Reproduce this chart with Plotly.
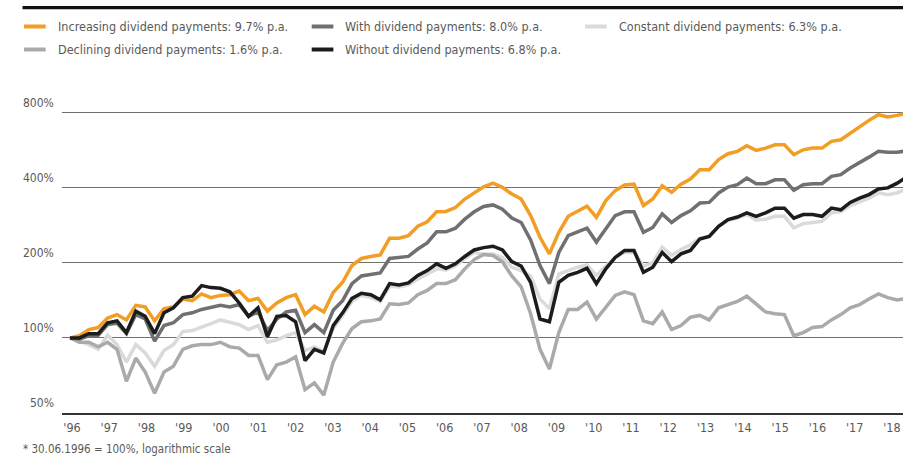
import math
import plotly.graph_objects as go

# ---------------- data (index: 30.06.1996 = 100%) ----------------
# quarterly observations, first = 30.06.1996
periods = [1996.5 + 0.25 * i for i in range(90)]

increasing = [100, 102, 108, 110, 120, 124, 118, 135, 133, 117, 131, 133, 143, 141, 150, 145, 148, 149, 154, 141, 144, 128, 138,
              145, 149, 124, 134, 127, 152, 167, 195, 208, 212, 215, 251, 251, 257, 280, 292, 320, 321, 333, 360, 381,
              403, 417, 401, 377, 360, 309, 253, 217, 265, 307, 323, 337, 304, 355, 389, 410, 413, 339, 360, 407, 383, 413, 433,
              472, 472, 518, 547, 559, 589, 564, 576, 594, 594, 542, 567, 576, 576, 613, 622, 662, 704, 744, 784, 767, 779, 796]

with_div = [100, 99, 102, 102.5, 113, 114.5, 104, 124, 119, 97, 112, 115, 124, 126, 130, 132, 135, 133, 136, 122, 127, 107, 119,
            127, 129, 105, 113, 105, 129, 141, 165, 177, 180, 182, 208, 210, 212, 227, 240, 266, 266, 275, 299, 320,
            336, 341, 328, 302, 290, 247, 195, 165, 220, 257, 265, 275, 242, 273, 309, 320, 320, 265, 277, 314, 290, 309, 323,
            347, 349, 381, 402, 411, 437, 415, 415, 430, 430, 390, 411, 415, 415, 444, 451, 479, 502, 530, 559, 554, 554, 562]

constant = [100, 97, 94, 90, 102.5, 94, 80, 94, 87, 77, 89, 94, 106, 107, 110, 114, 118, 115, 113, 108, 112, 96, 98,
            102, 105, 89, 92, 88, 109, 123, 140, 148, 145, 140, 161, 160, 163, 172, 180, 189, 187, 194, 208, 220,
            216, 217, 210, 192, 186, 177, 143, 131, 180, 186, 192, 196, 178, 194, 210, 220, 220, 194, 200, 231, 214, 226, 236,
            251, 255, 280, 296, 302, 312, 296, 299, 307, 307, 276, 287, 290, 293, 317, 321, 339, 352, 363, 381, 375, 381, 395]

declining = [100, 96, 96, 92, 96, 90, 67, 83, 73, 60, 73, 77, 90, 93, 94, 94, 96, 92, 91, 85, 85, 68, 78,
             80, 84, 62, 66, 59, 80, 95, 109, 116, 117, 119, 137, 136, 138, 149, 155, 165, 165, 171, 189, 206,
             216, 214, 202, 177, 160, 125, 90, 75, 105, 130, 130, 139, 119, 133, 148, 153, 149, 117, 114, 127, 108, 112, 121,
             123, 118, 132, 136, 140, 147, 136, 127, 125, 124, 102, 105, 110, 111, 118, 124, 132, 136, 143, 150, 145, 142, 144]

without = [100, 100, 104, 104, 115, 117, 105, 128, 122, 104, 126, 132, 145, 147, 162, 159, 158, 153, 138, 122, 132, 101, 122,
           123, 116, 81, 90, 87, 112, 126, 144, 151, 149, 142, 165, 163, 166, 178, 186, 198, 190, 198, 212, 225,
           230, 233, 225, 202, 194, 167, 119, 116, 167, 178, 183, 190, 165, 189, 210, 224, 224, 183, 192, 220, 202, 217, 224,
           249, 255, 280, 298, 305, 317, 307, 317, 331, 331, 302, 312, 312, 307, 331, 326, 349, 363, 375, 395, 399, 417, 441]

year_labels = ["'96", "'97", "'98", "'99", "'00", "'01", "'02", "'03", "'04", "'05", "'06", "'07",
               "'08", "'09", "'10", "'11", "'12", "'13", "'14", "'15", "'16", "'17", "'18"]
y_ticks = [50, 100, 200, 400, 800]

series_names = ["Constant dividend payments: 6.3% p.a.",
                "Declining dividend payments: 1.6% p.a.",
                "With dividend payments: 8.0% p.a.",
                "Increasing dividend payments: 9.7% p.a.",
                "Without dividend payments: 6.8% p.a."]
series_values = [constant, declining, with_div, increasing, without]
series_colors = ["#DADADB", "#A9AAAC", "#707073", "#F29D24", "#1C1C1C"]

# ---------------- layout geometry ----------------
W, H = 903, 461
ML, MR, MT, MB = 62, 0, 100, 48
PW, PH = W - ML - MR, H - MT - MB
FONT = "Liberation Sans Narrow, DejaVu Sans Condensed, Roboto Condensed, Roboto, sans-serif"
TXT = "#5a5a5a"

def px_x(px):
    return (px - ML) / PW

def px_y(py):
    return (H - MB - py) / PH

fig = go.Figure()
for name, vals, col in zip(series_names, series_values, series_colors):
    fig.add_trace(go.Scatter(x=periods, y=vals, name=name, mode="lines",
                             line=dict(color=col, width=3.5), hoverinfo="skip"))

# tick label positions on the time axis
tick_pos = [1996.553 + k * 0.9912 for k in range(len(year_labels))]

fig.update_layout(
    width=W, height=H, margin=dict(l=ML, r=MR, t=MT, b=MB, pad=0),
    paper_bgcolor="white", plot_bgcolor="white", showlegend=False,
    font=dict(family=FONT, size=13, color=TXT),
    xaxis=dict(range=[1996.287, 2018.654], showgrid=False, zeroline=False,
               showline=True, linecolor="#333333", linewidth=1.5,
               tickvals=tick_pos, ticktext=year_labels, ticks="",
               ticklabelstandoff=2,
               tickfont=dict(size=12.5, color=TXT)),
    yaxis=dict(type="log", range=[math.log10(50), 2.9532],
               tickvals=[100, 200, 400, 800], showticklabels=False,
               showgrid=True, gridcolor="#707070", gridwidth=1,
               zeroline=False, showline=False, ticks=""),
)

shapes = []
annotations = []
# y labels with short rules underneath
for v in y_ticks:
    annotations.append(dict(text=f"{v}%", xref="paper", yref="y", x=px_x(55.5), y=math.log10(v),
                            xanchor="right", yanchor="bottom", yshift=1, showarrow=False,
                            font=dict(size=12, color=TXT)))
    shapes.append(dict(type="line", xref="paper", yref="y", x0=px_x(22.5), x1=px_x(55.5),
                       y0=math.log10(v), y1=math.log10(v),
                       line=dict(color="#333333" if v == 50 else "#707070", width=1.5 if v == 50 else 1)))

# top rule
shapes.append(dict(type="line", xref="paper", yref="paper", x0=px_x(22.5), x1=1.0,
                   y0=px_y(7.7), y1=px_y(7.7), line=dict(color="#111111", width=3.3)))

# legend (manual, 3 columns)
legend_items = [
    (series_names[3], series_colors[3], 24, 26.5),
    (series_names[2], series_colors[2], 311.7, 26.5),
    (series_names[0], series_colors[0], 585, 26.5),
    (series_names[1], series_colors[1], 24, 49.5),
    (series_names[4], series_colors[4], 311.7, 49.5),
]
for name, col, lx, ly in legend_items:
    shapes.append(dict(type="line", xref="paper", yref="paper", x0=px_x(lx), x1=px_x(lx + 21.7),
                       y0=px_y(ly), y1=px_y(ly), line=dict(color=col, width=4)))
    annotations.append(dict(text=name, xref="paper", yref="paper", x=px_x(lx + 31.5), y=px_y(ly),
                            xanchor="left", yanchor="middle", showarrow=False,
                            font=dict(size=12.5, color=TXT)))

# footnote
annotations.append(dict(text="* 30.06.1996 = 100%, logarithmic scale", xref="paper", yref="paper",
                        x=px_x(21), y=px_y(449), xanchor="left", yanchor="middle", showarrow=False,
                        font=dict(size=11.5, color=TXT)))

fig.update_layout(shapes=shapes, annotations=annotations)

fig.write_html("out.html", include_plotlyjs=True, config={"displayModeBar": False},
               post_script="document.body.style.margin='0';document.body.style.padding='0';")
